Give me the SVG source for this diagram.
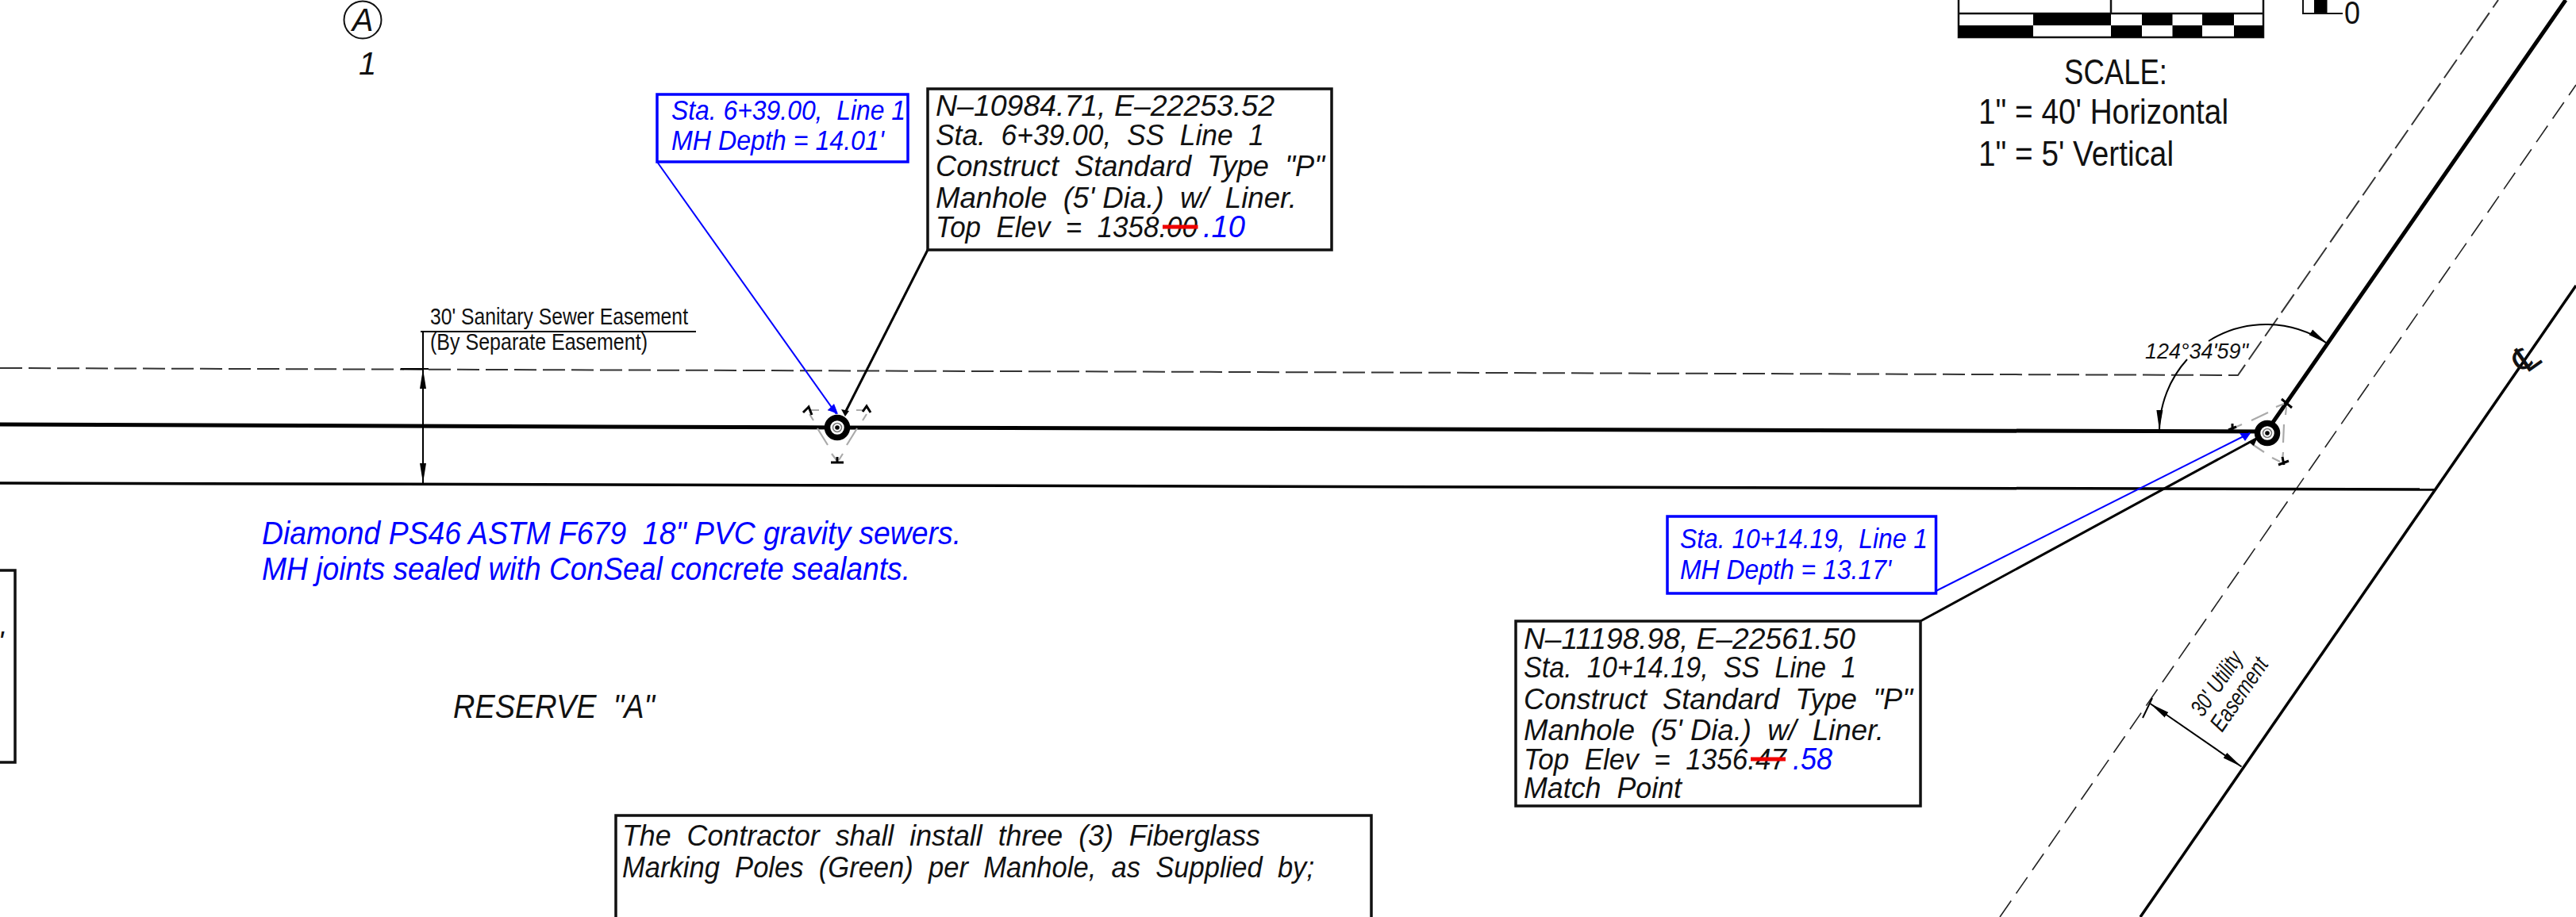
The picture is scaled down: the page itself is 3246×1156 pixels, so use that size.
<svg xmlns="http://www.w3.org/2000/svg" width="3246" height="1156" viewBox="0 0 3246 1156">
<style>
.cad{font-family:"Liberation Sans",Arial,sans-serif;font-style:italic;font-size:37px;fill:#111}
.blue{font-family:"Liberation Sans",Arial,sans-serif;font-style:italic;font-size:35px;fill:#0000ff}
.plain{font-family:"Liberation Sans",Arial,sans-serif;fill:#111}
.box{fill:#fff;stroke:#111;stroke-width:3.5}
.bbox{fill:#fff;stroke:#0000ff;stroke-width:3.5}
.dash{fill:none;stroke:#333;stroke-width:2;stroke-dasharray:28 8}
.dash2{fill:none;stroke:#222;stroke-width:1.6;stroke-dasharray:25 11}
.heavy{fill:none;stroke:#000;stroke-width:5}
.line{fill:none;stroke:#000;stroke-width:3.5}
.thin{fill:none;stroke:#000;stroke-width:2}
.lead{fill:none;stroke:#000;stroke-width:3}
.blead{fill:none;stroke:#0000ff;stroke-width:2}
.strike{stroke:#f00000;stroke-width:5}
.gray{fill:none;stroke:#aaa;stroke-width:2.2}
.tick{fill:none;stroke:#000;stroke-width:3}
</style>
<defs>
<marker id="dim" markerUnits="userSpaceOnUse" markerWidth="26" markerHeight="10" refX="25" refY="5" orient="auto-start-reverse"><path d="M0 1 L25 5 L0 9 Z" fill="#000"/></marker>
<g id="mh"><circle r="12.500" fill="#fff" stroke="#000" stroke-width="7.500"/><circle r="5.500" fill="none" stroke="#777" stroke-width="1.500"/><circle r="2.800" fill="#000"/></g>
</defs>
<rect width="3246" height="1156" fill="#fff"/>

<g id="connectors">
<path class="dash" d="M0 464 L2820 473 L3148 0"/>
<path class="dash2" d="M2520 1156 L3246 107"/>
<path class="heavy" d="M0 535 L1055 539 L2856 544 L3233 0"/>
<path class="line" d="M0 609 L3068 617"/>
<path class="line" d="M2697 1156 L3246 360"/>
<path class="blead" d="M828 204 L1054 522"/>
<path class="lead" d="M1169 315 L1065 520"/>
<path class="blead" d="M2439.500 745 L2835 546"/>
<path class="lead" d="M2420 783 L2843 553"/>
<path class="thin" d="M877 418 H530 M533 418 V465 M505 465 H540" />
<path class="thin" d="M533 465 V609" marker-start="url(#dim)" marker-end="url(#dim)"/>
<path class="thin" d="M2756 453 A136 136 0 0 0 2721 542" marker-end="url(#dim)"/>
<path class="thin" d="M2783 430 A136 136 0 0 1 2932.500 433" marker-end="url(#dim)"/>
<path class="thin" d="M2709.500 887 L2824.500 966.500" marker-start="url(#dim)" marker-end="url(#dim)"/>
<path class="thin" d="M2712 880 L2700 905"/>
</g>

<g id="manhole-1">
<use href="#mh" x="1055" y="539"/>
<path class="gray" d="M1022 517 H1032 M1043 517 H1054 M1079 517 H1090 M1020 522 L1025 530 M1030 540 L1043 561 M1048 572 L1054 580 M1092 522 L1087 530 M1080 540 L1067 561 M1062 572 L1057 580"/>
<path class="tick" d="M1012 520 L1019 513 L1023 523 M1087 519 L1092 512 L1097 520 M1047 583 H1063 M1055 576 V583"/>
<polygon points="1056,522 1043,517 1051,509" fill="#0000ff"/>
<path d="M1065 525 L1060 516 L1070 518 Z" fill="#000"/>
</g>

<g id="manhole-2">
<use href="#mh" x="2857" y="546"/>
<path class="gray" d="M2816 539 L2825 535 M2837 530 L2858 520 M2868 513 L2878 509 M2881 513 L2880 523 M2878 535 L2877 558 M2877 570 L2876 580 M2838 560 L2853 570 M2863 577 L2873 582"/>
<path class="tick" d="M2813 534 V546 M2808 542 L2818 538 M2875 503 L2888 514 M2871 586 L2884 581 M2876 576 L2878 586"/>
<polygon points="2822,546 2836,546 2829,556" fill="#0000ff"/>
<path d="M2845 551 L2833 557 L2840 562 Z" fill="#000"/>
</g>

<g id="note-sta-639">
<rect class="bbox" x="828" y="119" width="316" height="85"/>
<text class="blue" x="846" y="151" textLength="295" lengthAdjust="spacingAndGlyphs" xml:space="preserve">Sta. 6+39.00,  Line 1</text>
<text class="blue" x="846" y="189" textLength="268" lengthAdjust="spacingAndGlyphs">MH Depth = 14.01'</text>
</g>

<g id="note-mh-639">
<rect class="box" x="1169" y="112" width="509" height="203"/>
<text class="cad" x="1179" y="146" textLength="427" lengthAdjust="spacingAndGlyphs">N–10984.71, E–22253.52</text>
<text class="cad" x="1179" y="183" textLength="414" lengthAdjust="spacingAndGlyphs" xml:space="preserve">Sta.  6+39.00,  SS  Line  1</text>
<text class="cad" x="1179" y="222" textLength="490" lengthAdjust="spacingAndGlyphs" xml:space="preserve">Construct  Standard  Type  "P"</text>
<text class="cad" x="1179" y="262" textLength="455" lengthAdjust="spacingAndGlyphs" xml:space="preserve">Manhole  (5' Dia.)  w/  Liner.</text>
<text class="cad" x="1179" y="299" textLength="330" lengthAdjust="spacingAndGlyphs" xml:space="preserve">Top  Elev  =  1358.00</text>
<line class="strike" x1="1465" y1="286" x2="1509.500" y2="286"/>
<text class="blue" x="1516" y="299" style="font-size:38px" textLength="53" lengthAdjust="spacingAndGlyphs">.10</text>
</g>

<g id="note-sta-1014">
<rect class="bbox" x="2101" y="651" width="338.500" height="97"/>
<text class="blue" x="2117" y="691" textLength="312" lengthAdjust="spacingAndGlyphs" xml:space="preserve">Sta. 10+14.19,  Line 1</text>
<text class="blue" x="2117" y="730" textLength="266" lengthAdjust="spacingAndGlyphs">MH Depth = 13.17'</text>
</g>

<g id="note-mh-1014">
<rect class="box" x="1910" y="783" width="510" height="233"/>
<text class="cad" x="1920" y="818" textLength="418" lengthAdjust="spacingAndGlyphs">N–11198.98, E–22561.50</text>
<text class="cad" x="1920" y="854" textLength="419" lengthAdjust="spacingAndGlyphs" xml:space="preserve">Sta.  10+14.19,  SS  Line  1</text>
<text class="cad" x="1920" y="894" textLength="490" lengthAdjust="spacingAndGlyphs" xml:space="preserve">Construct  Standard  Type  "P"</text>
<text class="cad" x="1920" y="933" textLength="454" lengthAdjust="spacingAndGlyphs" xml:space="preserve">Manhole  (5' Dia.)  w/  Liner.</text>
<text class="cad" x="1920" y="970" textLength="331" lengthAdjust="spacingAndGlyphs" xml:space="preserve">Top  Elev  =  1356.47</text>
<line class="strike" x1="2206" y1="957" x2="2250" y2="957"/>
<text class="blue" x="2259" y="970" style="font-size:38px" textLength="50" lengthAdjust="spacingAndGlyphs">.58</text>
<text class="cad" x="1920" y="1006" textLength="199" lengthAdjust="spacingAndGlyphs" xml:space="preserve">Match  Point</text>
</g>

<g id="note-poles">
<rect class="box" x="776" y="1028" width="952" height="140"/>
<text class="cad" x="784" y="1066" textLength="804" lengthAdjust="spacingAndGlyphs" xml:space="preserve">The  Contractor  shall  install  three  (3)  Fiberglass</text>
<text class="cad" x="784" y="1106" textLength="872" lengthAdjust="spacingAndGlyphs" xml:space="preserve">Marking  Poles  (Green)  per  Manhole,  as  Supplied  by;</text>
</g>

<g id="note-left">
<rect class="box" x="-10" y="719" width="29" height="242"/>
<text class="cad" x="-9" y="822">"</text>
</g>

<g id="scale-bar">
<path d="M2468 -2 V47 H2852 V-2 M2468 17 H2852 M2660 -2 V17" fill="none" stroke="#111" stroke-width="2.500"/>
<g fill="#000">
<rect x="2562" y="17" width="98" height="15"/><rect x="2699" y="17" width="38.500" height="15"/><rect x="2775" y="17" width="40" height="15"/>
<rect x="2468" y="32" width="94" height="15"/><rect x="2660" y="32" width="39" height="15"/><rect x="2737.500" y="32" width="37.500" height="15"/><rect x="2815" y="32" width="37" height="15"/>
<rect x="2916" y="-2" width="16.500" height="19"/>
</g>
<path d="M2902 -2 V17 H2952" fill="none" stroke="#111" stroke-width="2"/>
<text class="plain" x="2954" y="30" font-size="40" textLength="20" lengthAdjust="spacingAndGlyphs">0</text>
<text class="plain" x="2601" y="106" font-size="44" textLength="130" lengthAdjust="spacingAndGlyphs">SCALE:</text>
<text class="plain" x="2493" y="156" font-size="44" textLength="315" lengthAdjust="spacingAndGlyphs">1" = 40' Horizontal</text>
<text class="plain" x="2493" y="209" font-size="44" textLength="246" lengthAdjust="spacingAndGlyphs">1" = 5' Vertical</text>
</g>

<g id="marker-a">
<circle cx="457" cy="25" r="23.500" fill="none" stroke="#111" stroke-width="2"/>
<text class="cad" x="457" y="39" text-anchor="middle" style="font-size:40px">A</text>
<text class="cad" x="452" y="94" style="font-size:40px">1</text>
</g>

<g id="labels">
<text class="plain" x="542" y="409" font-size="30" textLength="325" lengthAdjust="spacingAndGlyphs">30' Sanitary Sewer Easement</text>
<text class="plain" x="542" y="441" font-size="30" textLength="274" lengthAdjust="spacingAndGlyphs">(By Separate Easement)</text>
<text class="blue" x="330" y="686" style="font-size:40px" textLength="881" lengthAdjust="spacingAndGlyphs" xml:space="preserve">Diamond PS46 ASTM F679  18" PVC gravity sewers.</text>
<text class="blue" x="330" y="731" style="font-size:40px" textLength="817" lengthAdjust="spacingAndGlyphs">MH joints sealed with ConSeal concrete sealants.</text>
<text class="cad" x="571" y="905" style="font-size:42px" textLength="254" lengthAdjust="spacingAndGlyphs" xml:space="preserve">RESERVE  "A"</text>
<text class="cad" x="2703" y="452" style="font-size:28px" textLength="130" lengthAdjust="spacingAndGlyphs">124°34'59"</text>
<text class="cad" transform="translate(2775.500 905) rotate(-55.500)" style="font-size:30px" textLength="91" lengthAdjust="spacingAndGlyphs">30' Utility</text>
<text class="cad" transform="translate(2800 924) rotate(-55.500)" style="font-size:30px" textLength="105" lengthAdjust="spacingAndGlyphs">Easement</text>
<text transform="translate(3183 452) rotate(-35)" text-anchor="middle" dominant-baseline="central" font-family="DejaVu Sans, sans-serif" font-size="46" fill="#111">℄</text>
</g>
</svg>
